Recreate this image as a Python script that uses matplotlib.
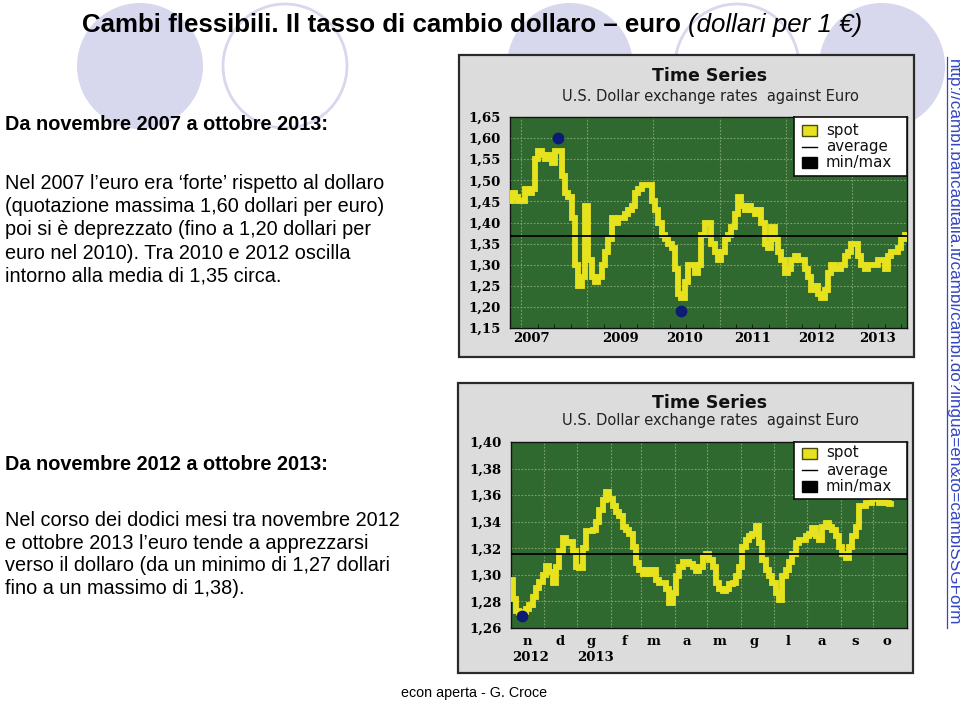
import matplotlib
matplotlib.use('Agg')
import matplotlib.pyplot as plt
import matplotlib.dates as mdates
import matplotlib.transforms as mtransforms
from matplotlib.patches import Circle, Rectangle
from matplotlib.ticker import FuncFormatter
import pandas as pd

# ---------------- data ----------------
top_values = [1.45, 1.47, 1.46, 1.45, 1.45, 1.48, 1.47, 1.48, 1.55, 1.57,
              1.56, 1.55, 1.56, 1.54, 1.57, 1.57, 1.51, 1.47, 1.46, 1.41,
              1.30, 1.25, 1.27, 1.44, 1.31, 1.27, 1.26, 1.27, 1.30, 1.33,
              1.36, 1.41, 1.40, 1.41, 1.41, 1.42, 1.43, 1.44, 1.47, 1.48,
              1.49, 1.49, 1.49, 1.45, 1.43, 1.40, 1.37, 1.36, 1.35, 1.34,
              1.29, 1.23, 1.22, 1.26, 1.30, 1.30, 1.28, 1.30, 1.37, 1.40,
              1.40, 1.35, 1.33, 1.31, 1.33, 1.36, 1.37, 1.39, 1.42, 1.46,
              1.44, 1.43, 1.44, 1.43, 1.42, 1.43, 1.40, 1.35, 1.34, 1.39,
              1.36, 1.33, 1.31, 1.28, 1.29, 1.31, 1.32, 1.31, 1.31, 1.29,
              1.27, 1.24, 1.25, 1.23, 1.22, 1.24, 1.28, 1.30, 1.29, 1.29,
              1.30, 1.32, 1.33, 1.35, 1.35, 1.32, 1.30, 1.29, 1.30, 1.30,
              1.30, 1.31, 1.31, 1.29, 1.32, 1.33, 1.33, 1.34, 1.36, 1.37]
top_start, top_end = '2007-11-01', '2013-10-28'
top_average = 1.368
top_max = ('2008-07-24', 1.60)
top_min = ('2010-06-04', 1.19)
top_yticks = [1.15, 1.20, 1.25, 1.30, 1.35, 1.40, 1.45, 1.50, 1.55, 1.60, 1.65]
top_xlabels = ['2007', '2009', '2010', '2011', '2012', '2013']
top_xlabel_dates = ['2008-02-25', '2009-07-02', '2010-06-22', '2011-06-30',
                    '2012-06-22', '2013-05-20']

bot_values = [1.296, 1.282, 1.273, 1.271, 1.272, 1.274, 1.277, 1.283, 1.290, 1.295,
              1.300, 1.307, 1.302, 1.294, 1.306, 1.318, 1.328, 1.324, 1.325, 1.318,
              1.306, 1.305, 1.320, 1.333, 1.333, 1.334, 1.340, 1.349, 1.356, 1.362,
              1.357, 1.352, 1.347, 1.344, 1.336, 1.334, 1.331, 1.321, 1.309, 1.304,
              1.301, 1.304, 1.301, 1.304, 1.296, 1.294, 1.294, 1.289, 1.279, 1.286,
              1.299, 1.306, 1.310, 1.310, 1.308, 1.306, 1.303, 1.306, 1.314, 1.316,
              1.311, 1.306, 1.294, 1.289, 1.288, 1.289, 1.293, 1.294, 1.299, 1.306,
              1.321, 1.326, 1.329, 1.331, 1.337, 1.324, 1.311, 1.304, 1.299, 1.294,
              1.286, 1.281, 1.299, 1.304, 1.310, 1.316, 1.324, 1.326, 1.326, 1.329,
              1.331, 1.335, 1.329, 1.326, 1.336, 1.339, 1.336, 1.334, 1.329, 1.321,
              1.316, 1.313, 1.321, 1.329, 1.336, 1.352, 1.352, 1.354, 1.354, 1.357,
              1.357, 1.354, 1.355, 1.354, 1.353]
bot_start, bot_end = '2012-11-01', '2013-10-17'
bot_average = 1.316
bot_min = ('2012-11-11', 1.269)
bot_yticks = [1.26, 1.28, 1.30, 1.32, 1.34, 1.36, 1.38, 1.40]
bot_month_labels = ['n', 'd', 'g', 'f', 'm', 'a', 'm', 'g', 'l', 'a', 's', 'o']
bot_month_dates = ['2012-11-16', '2012-12-16', '2013-01-14', '2013-02-14',
                   '2013-03-12', '2013-04-12', '2013-05-12', '2013-06-13',
                   '2013-07-14', '2013-08-14', '2013-09-14', '2013-10-13']
bot_year_labels = ['2012', '2013']
bot_year_dates = ['2012-11-02', '2013-01-01']

title_bold = 'Cambi flessibili. Il tasso di cambio dollaro \u2013 euro'
title_ital = '(dollari per 1 \u20ac)'
block1_head = 'Da novembre 2007 a ottobre 2013:'
block1_lines = ['Nel 2007 l\u2019euro era \u2018forte\u2019 rispetto al dollaro',
                '(quotazione massima 1,60 dollari per euro)',
                'poi si \u00e8 deprezzato (fino a 1,20 dollari per',
                'euro nel 2010). Tra 2010 e 2012 oscilla',
                'intorno alla media di 1,35 circa.']
block2_head = 'Da novembre 2012 a ottobre 2013:'
block2_lines = ['Nel corso dei dodici mesi tra novembre 2012',
                'e ottobre 2013 l\u2019euro tende a apprezzarsi',
                'verso il dollaro (da un minimo di 1,27 dollari',
                'fino a un massimo di 1,38).']
url = 'http://cambi.bancaditalia.it/cambi/cambi.do?lingua=en&to=cambiSSGForm'
footer = 'econ aperta - G. Croce'

# ---------------- style ----------------
W, H = 960, 702
LAV = '#d7d7ee'
GREEN = '#30692f'
GRID = '#79a46a'
YEL = '#e6e21e'
DOT = '#0c1c72'
SANS = 'Liberation Sans'

fig = plt.figure(figsize=(W / 100, H / 100), dpi=100)
fig.patch.set_facecolor('white')


def rect(x0, y0, x1, y1):
    return [x0 / W, 1 - y1 / H, (x1 - x0) / W, (y1 - y0) / H]


bg = fig.add_axes([0, 0, 1, 1], zorder=0)
bg.set_xlim(0, W)
bg.set_ylim(H, 0)
bg.axis('off')

# decorative circles
for cx, filled in [(140, True), (285, False), (570, True), (737, False), (882, True)]:
    if filled:
        bg.add_patch(Circle((cx, 66), 63, fc=LAV, ec='none', zorder=1))
    else:
        bg.add_patch(Circle((cx, 66), 62, fc='none', ec=LAV, lw=2.0, zorder=1))

# chart frames
for (x0, y0, x1, y1) in [(459, 55, 914, 357), (458, 383, 913, 673)]:
    bg.add_patch(Rectangle((x0, y0), x1 - x0, y1 - y0, fc='#dcdcdc', ec='#2a2a2a',
                           lw=1.6, zorder=2))

for ty in [(76, 96), (403, 421)]:
    bg.text(710, ty[0], 'Time Series', ha='center', va='center', fontsize=12.5,
            fontweight='bold', family='DejaVu Sans', color='#111111', zorder=3)
    bg.text(710, ty[1], 'U.S. Dollar exchange rates  against Euro', ha='center',
            va='center', fontsize=10.5, family='DejaVu Sans', color='#222222', zorder=3)

# slide title
t1 = bg.text(82, 32, title_bold, ha='left', va='baseline', fontsize=18.6,
             fontweight='bold', family=SANS, zorder=4)
fig.canvas.draw()
bb = t1.get_window_extent(renderer=fig.canvas.get_renderer())
bg.text(bb.x1 + 7, 32, title_ital, ha='left', va='baseline', fontsize=18.6,
        style='italic', family=SANS, zorder=4)

# left text blocks
bg.text(5, 130, block1_head, ha='left', va='baseline', fontsize=14.3,
        fontweight='bold', family=SANS, zorder=4)
for i, line in enumerate(block1_lines):
    bg.text(5, 189 + 23.2 * i, line, ha='left', va='baseline', fontsize=14.3,
            family=SANS, zorder=4)
bg.text(5, 470, block2_head, ha='left', va='baseline', fontsize=14.3,
        fontweight='bold', family=SANS, zorder=4)
for i, line in enumerate(block2_lines):
    bg.text(5, 526 + 22.7 * i, line, ha='left', va='baseline', fontsize=14.3,
            family=SANS, zorder=4)

# URL (vertical, underlined)
bg.text(953, 342, url, rotation=-90, ha='center', va='center', fontsize=12.3,
        family=SANS, color='#3346c4', zorder=4)
bg.plot([946.5, 946.5], [57, 628], color='#3346c4', lw=0.9, zorder=4)

bg.text(474, 693, footer, ha='center', va='center', fontsize=10.3, family=SANS,
        zorder=4)

comma = FuncFormatter(lambda v, p: f'{v:.2f}'.replace('.', ','))
tickfont = dict(family='DejaVu Serif', fontweight='bold', fontsize=9.5)


def style_plot(ax, yticks):
    ax.set_facecolor(GREEN)
    ax.set_yticks(yticks)
    ax.set_ylim(yticks[0], yticks[-1])
    ax.yaxis.set_major_formatter(comma)
    for lab in ax.get_yticklabels():
        lab.set_fontfamily('DejaVu Serif')
        lab.set_fontweight('bold')
        lab.set_fontsize(9.5)
    ax.tick_params(axis='y', length=0, pad=7)
    ax.tick_params(axis='x', which='major', length=0, labelbottom=False)
    ax.tick_params(axis='x', which='minor', length=3, direction='in', color='#111111')
    ax.grid(True, which='major', color=GRID, lw=0.8, ls=(0, (1.5, 1.5)))
    for s in ax.spines.values():
        s.set_color('#111111')
        s.set_linewidth(1.0)


def legend_box(x0, y0, x1, y1, rows):
    lax = fig.add_axes(rect(x0, y0, x1, y1), zorder=6)
    lax.set_xlim(0, x1 - x0)
    lax.set_ylim(y1 - y0, 0)
    lax.set_xticks([])
    lax.set_yticks([])
    lax.set_facecolor('white')
    for s in lax.spines.values():
        s.set_color('#111111')
        s.set_linewidth(1.2)
    lax.add_patch(Rectangle((8, rows[0] - 5.5), 15, 11, fc=YEL, ec='#4a4a10', lw=1))
    lax.plot([8, 23], [rows[1], rows[1]], color='black', lw=1)
    lax.add_patch(Rectangle((8, rows[2] - 5.5), 15, 11, fc='black', ec='black', lw=1))
    for r, lab in zip(rows, ['spot', 'average', 'min/max']):
        lax.text(32, r, lab, ha='left', va='center', fontsize=10.8,
                 family='DejaVu Sans', color='#111111')


# ---------------- top chart ----------------
ax1 = fig.add_axes(rect(510, 117, 907, 328), zorder=5)
top_dates = pd.date_range(top_start, top_end, periods=len(top_values))
ax1.plot(top_dates, top_values, color=YEL, lw=4.2, drawstyle='steps-mid',
         solid_joinstyle='miter', zorder=3)
ax1.axhline(top_average, color='black', lw=1.3, zorder=4)
for d, v in [top_max, top_min]:
    ax1.plot([pd.Timestamp(d)], [v], 'o', color=DOT, ms=7.5, zorder=5)
ax1.set_xlim(pd.Timestamp('2007-11-01'), pd.Timestamp('2013-11-01'))
ax1.xaxis.set_major_locator(mdates.YearLocator())
ax1.xaxis.set_minor_locator(mdates.MonthLocator(bymonth=[1, 4, 7, 10]))
style_plot(ax1, top_yticks)
trans1 = mtransforms.blended_transform_factory(ax1.transData, ax1.transAxes)
for lab, d in zip(top_xlabels, top_xlabel_dates):
    ax1.text(pd.Timestamp(d), -0.052, lab, transform=trans1, ha='center',
             va='center', clip_on=False, **tickfont)
legend_box(794, 117, 907, 176, [13, 29.5, 45])

# ---------------- bottom chart ----------------
ax2 = fig.add_axes(rect(511, 442, 907, 628), zorder=5)
bot_dates = pd.date_range(bot_start, bot_end, periods=len(bot_values))
ax2.plot(bot_dates, bot_values, color=YEL, lw=4.2, drawstyle='steps-mid',
         solid_joinstyle='miter', zorder=3)
ax2.axhline(bot_average, color='black', lw=1.3, zorder=4)
ax2.plot([pd.Timestamp(bot_min[0])], [bot_min[1]], 'o', color=DOT, ms=7.5, zorder=5)
ax2.set_xlim(pd.Timestamp('2012-11-01'), pd.Timestamp('2013-11-01'))
ax2.xaxis.set_major_locator(mdates.MonthLocator())
ax2.xaxis.set_minor_locator(mdates.MonthLocator(bymonthday=16))
style_plot(ax2, bot_yticks)
ax2.tick_params(axis='x', which='minor', length=0)
trans2 = mtransforms.blended_transform_factory(ax2.transData, ax2.transAxes)
for lab, d in zip(bot_month_labels, bot_month_dates):
    ax2.text(pd.Timestamp(d), -0.07, lab, transform=trans2, ha='center',
             va='center', clip_on=False, **tickfont)
for lab, d in zip(bot_year_labels, bot_year_dates):
    ax2.text(pd.Timestamp(d), -0.157, lab, transform=trans2, ha='left',
             va='center', clip_on=False, **tickfont)
legend_box(794, 442, 907, 499, [11, 28, 44])

fig.savefig('out.png', dpi=100, facecolor='white')
